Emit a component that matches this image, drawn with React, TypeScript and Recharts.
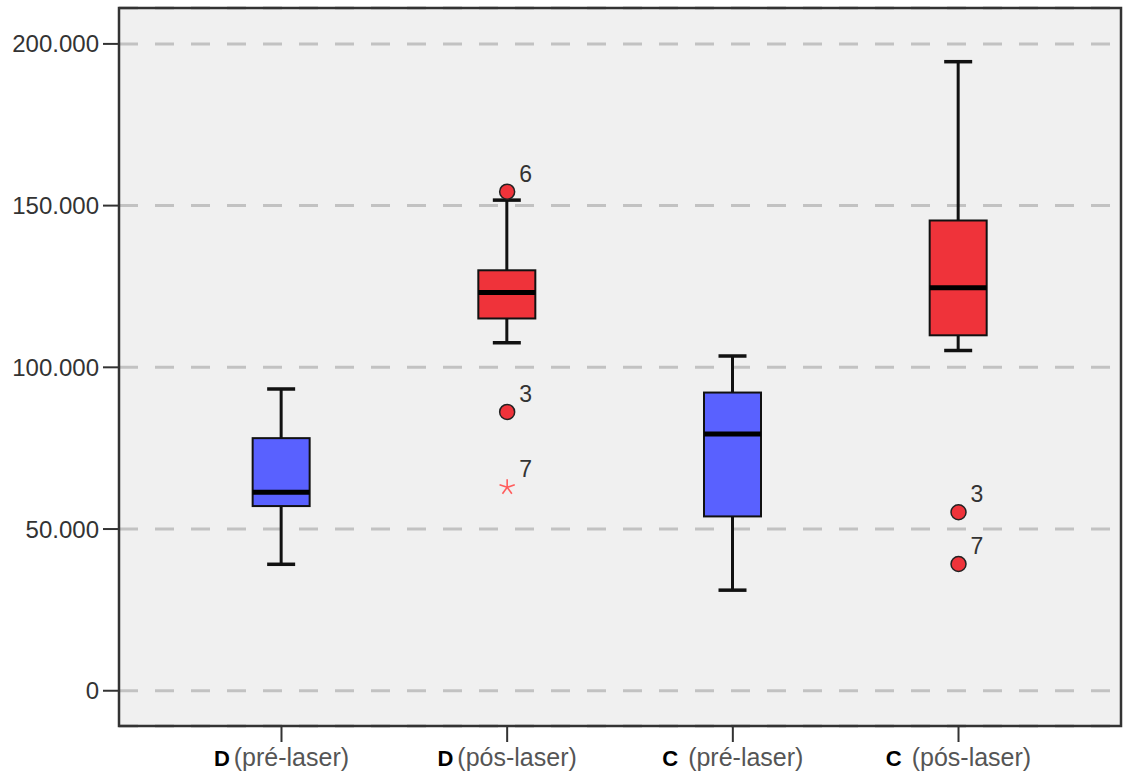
import { ComposedChart, Bar, Scatter, XAxis, YAxis, CartesianGrid, ReferenceArea } from 'recharts';

const groups = ['D', 'D', 'C', 'C'];
const phases = ['(pré-laser)', '(pós-laser)', '(pré-laser)', '(pós-laser)'];
const boxColors = ['#5961ff', '#ef333a', '#5961ff', '#ef333a'];

const whiskerLow = [39100, 107600, 31100, 105200];
const q1 = [57100, 115100, 53900, 109900];
const median = [61400, 123100, 79400, 124600];
const q3 = [78100, 130000, 92200, 145400];
const whiskerHigh = [93300, 151700, 103500, 194500];

// outliers: category index, value, case label, kind
const outlierCat = [1, 1, 1, 3, 3];
const outlierValue = [154300, 86200, 62900, 55200, 39200];
const outlierLabel = ['6', '3', '7', '3', '7'];
const outlierKind = ['circle', 'circle', 'star', 'circle', 'circle'];

const yTicks = [0, 50000, 100000, 150000, 200000];

const boxes = groups.map((g, i) => ({
  x: i,
  range: [whiskerLow[i], whiskerHigh[i]],
  q1: q1[i],
  median: median[i],
  q3: q3[i],
  color: boxColors[i],
}));

const outliers = outlierCat.map((c, i) => ({
  x: c,
  y: outlierValue[i],
  label: outlierLabel[i],
  kind: outlierKind[i],
}));

const fmt = (v: number) => String(v).replace(/\B(?=(\d{3})+(?!\d))/g, '.');

const BoxShape = (props: any) => {
  const { x, y, width, height, payload } = props;
  const [lo, hi] = payload.range;
  const py = (v: number) => y + ((hi - v) / (hi - lo)) * height;
  const cx = x + width / 2;
  const cap = 14;
  return (
    <g>
      <line x1={cx} x2={cx} y1={py(hi)} y2={py(lo)} stroke="#111" strokeWidth={3} />
      <line x1={cx - cap} x2={cx + cap} y1={py(hi)} y2={py(hi)} stroke="#111" strokeWidth={3.5} />
      <line x1={cx - cap} x2={cx + cap} y1={py(lo)} y2={py(lo)} stroke="#111" strokeWidth={3.5} />
      <rect
        x={x}
        y={py(payload.q3)}
        width={width}
        height={py(payload.q1) - py(payload.q3)}
        fill={payload.color}
        stroke="#111"
        strokeWidth={2}
      />
      <line x1={x} x2={x + width} y1={py(payload.median)} y2={py(payload.median)} stroke="#000" strokeWidth={5} />
    </g>
  );
};

const OutlierShape = (props: any) => {
  const { cx, cy, payload } = props;
  let mark;
  if (payload.kind === 'star') {
    const arms = [90, 162, 234, 306, 18].map((a) => {
      const r = (a * Math.PI) / 180;
      return (
        <line
          key={a}
          x1={cx}
          y1={cy}
          x2={cx + Math.cos(r) * 8}
          y2={cy - Math.sin(r) * 8}
          stroke="#ff5c5c"
          strokeWidth={1.6}
        />
      );
    });
    mark = <g>{arms}</g>;
  } else {
    mark = <circle cx={cx} cy={cy} r={7.5} fill="#ef333a" stroke="#222" strokeWidth={1.5} />;
  }
  return (
    <g>
      {mark}
      <text x={cx + 12} y={cy - 10} fontSize={23} fill="#333">
        {payload.label}
      </text>
    </g>
  );
};

const XTick = (props: any) => {
  const { x, y, payload } = props;
  const i = payload.value;
  return (
    <text x={x} y={y + 24} textAnchor="middle" fontSize={25}>
      <tspan fontWeight={700} fill="#000" fontSize={22}>
        {groups[i]}
      </tspan>
      <tspan fill="#555" dx={i >= 2 ? 10 : 4}>
        {phases[i]}
      </tspan>
    </text>
  );
};

export default function App() {
  return (
    <div style={{ position: 'absolute', left: 0, top: 0, background: '#fff' }}>
      <ComposedChart
        width={1124}
        height={778}
        data={boxes}
        margin={{ top: 8, right: 3, bottom: 0, left: 0 }}
        style={{ fontFamily: '"Liberation Sans", Arial, sans-serif' }}
      >
        <CartesianGrid
          vertical={false}
          fill="#f0f0f0"
          stroke="#c2c2c2"
          strokeWidth={3}
          strokeDasharray="19 17"
        />
        <XAxis
          dataKey="x"
          type="number"
          domain={[-0.72, 3.72]}
          ticks={[0, 1, 2, 3]}
          allowDataOverflow
          height={52}
          axisLine={false}
          tickSize={16}
          tickMargin={0}
          tickLine={{ stroke: '#333', strokeWidth: 2 }}
          tick={<XTick />}
        />
        <YAxis
          type="number"
          domain={[-10900, 211100]}
          ticks={yTicks}
          allowDataOverflow
          width={119}
          axisLine={false}
          tickSize={16}
          tickMargin={4}
          tickLine={{ stroke: '#333', strokeWidth: 2 }}
          tickFormatter={fmt}
          tick={{ fontSize: 24, fill: '#333' }}
        />
        <ReferenceArea
          x1={-0.72}
          x2={3.72}
          y1={-10900}
          y2={211100}
          fill="none"
          fillOpacity={0}
          stroke="#333"
          strokeWidth={2.5}
        />
        <Bar dataKey="range" barSize={57} shape={<BoxShape />} isAnimationActive={false} />
        <Scatter data={outliers} dataKey="y" shape={<OutlierShape />} isAnimationActive={false} />
      </ComposedChart>
    </div>
  );
}
